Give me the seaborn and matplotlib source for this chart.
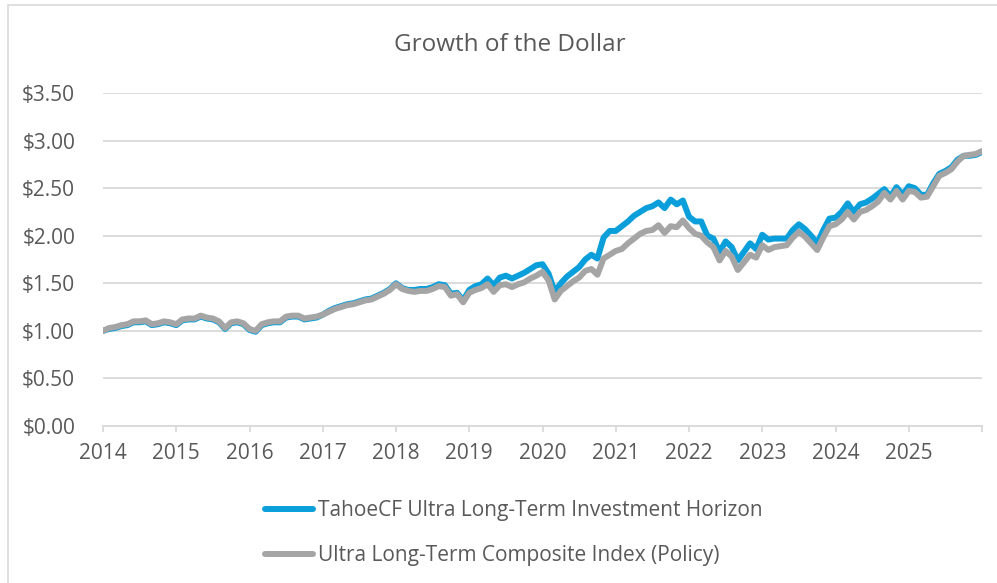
import numpy as np
import pandas as pd
import matplotlib
matplotlib.use("Agg")
import matplotlib.pyplot as plt
import seaborn as sns
from matplotlib.patches import Rectangle

title = "Growth of the Dollar"
series_names = ["TahoeCF Ultra Long-Term Investment Horizon",
                "Ultra Long-Term Composite Index (Policy)"]
year_ticks = list(range(2014, 2027))
year_labels = [str(y) for y in range(2014, 2026)] + [""]
y_ticks = [0.0, 0.5, 1.0, 1.5, 2.0, 2.5, 3.0, 3.5]

# Month-end values, starting Jan 2014 = $1.00 through end of 2025
policy = [
    1.00, 1.03, 1.04, 1.06, 1.07, 1.10, 1.10, 1.11, 1.07, 1.08, 1.10, 1.09,
    1.07, 1.12, 1.13, 1.13, 1.16, 1.14, 1.13, 1.10, 1.03, 1.09, 1.10, 1.08,
    1.02, 1.00, 1.07, 1.09, 1.10, 1.10, 1.15, 1.16, 1.16, 1.13, 1.14, 1.15,
    1.17, 1.20, 1.23, 1.25, 1.27, 1.28, 1.30, 1.32, 1.33, 1.36, 1.39, 1.43,
    1.49, 1.44, 1.42, 1.41, 1.42, 1.42, 1.44, 1.47, 1.46, 1.37, 1.385, 1.30,
    1.40, 1.43, 1.45, 1.49, 1.41, 1.48, 1.49, 1.46, 1.49, 1.51, 1.55, 1.58,
    1.62, 1.53, 1.33, 1.42, 1.47, 1.52, 1.56, 1.63, 1.65, 1.59, 1.76, 1.80,
    1.84, 1.86, 1.92, 1.97, 2.02, 2.05, 2.06, 2.11, 2.03, 2.10, 2.09, 2.16,
    2.08, 2.02, 2.00, 1.93, 1.88, 1.74, 1.84, 1.78, 1.64, 1.72, 1.80, 1.77,
    1.90, 1.85, 1.88, 1.89, 1.90, 1.98, 2.04, 1.99, 1.92, 1.85, 1.98, 2.10,
    2.12, 2.17, 2.25, 2.17, 2.25, 2.27, 2.31, 2.36, 2.45, 2.38, 2.47, 2.38,
    2.47, 2.46, 2.40, 2.41, 2.52, 2.63, 2.66, 2.70, 2.78, 2.84, 2.85, 2.86,
    2.89,
]
tahoe = [
    1.00, 1.02, 1.03, 1.05, 1.06, 1.09, 1.09, 1.10, 1.06, 1.07, 1.09, 1.08,
    1.06, 1.11, 1.12, 1.12, 1.15, 1.13, 1.12, 1.09, 1.02, 1.08, 1.09, 1.07,
    1.01, 0.99, 1.06, 1.08, 1.09, 1.09, 1.14, 1.15, 1.15, 1.12, 1.13, 1.14,
    1.17, 1.21, 1.24, 1.26, 1.28, 1.29, 1.31, 1.33, 1.34, 1.37, 1.40, 1.44,
    1.50, 1.45, 1.43, 1.43, 1.44, 1.44, 1.46, 1.49, 1.48, 1.39, 1.40, 1.32,
    1.43, 1.47, 1.49, 1.55, 1.48, 1.56, 1.58, 1.55, 1.58, 1.61, 1.65, 1.69,
    1.70, 1.60, 1.41, 1.50, 1.57, 1.62, 1.67, 1.75, 1.80, 1.76, 1.98, 2.05,
    2.05, 2.10, 2.15, 2.21, 2.25, 2.29, 2.31, 2.35, 2.29, 2.38, 2.33, 2.37,
    2.20, 2.15, 2.15, 2.00, 1.97, 1.83, 1.94, 1.88, 1.74, 1.83, 1.92, 1.86,
    2.01, 1.96, 1.97, 1.97, 1.97, 2.06, 2.12, 2.07, 2.00, 1.92, 2.06, 2.18,
    2.19, 2.25, 2.34, 2.25, 2.33, 2.35, 2.39, 2.44, 2.49, 2.41, 2.51, 2.43,
    2.52, 2.50, 2.43, 2.43, 2.55, 2.65, 2.68, 2.72, 2.80, 2.84, 2.84, 2.85,
    2.88,
]

n = len(policy)
dates = [2014 + i / 12 for i in range(n)]

df = pd.DataFrame({
    "date": dates * 2,
    "value": tahoe + policy,
    "series": [series_names[0]] * n + [series_names[1]] * n,
})

sns.set_theme(style="white")
plt.rcParams["font.family"] = ["Open Sans", "DejaVu Sans"]

text_color = "#595959"
grid_color = "#D9D9D9"
colors = {series_names[0]: "#0A9FDB", series_names[1]: "#A5A5A5"}

fig = plt.figure(figsize=(9.97, 5.83), dpi=100)
ax = fig.add_axes([103 / 997, 1 - 426 / 583, (982 - 103) / 997, (426 - 93) / 583])

sns.lineplot(data=df, x="date", y="value", hue="series", hue_order=series_names,
             palette=colors, linewidth=4.3, ax=ax, legend=True)

ax.set_xlim(2014, 2026)
ax.set_ylim(0, 3.5)
ax.set_yticks(y_ticks)
ax.set_yticklabels([f"${v:.2f}" for v in y_ticks])
ax.set_xticks(year_ticks)
ax.set_xticklabels(year_labels)
ax.set_xlabel("")
ax.set_ylabel("")
ax.grid(axis="y", color=grid_color, linewidth=1.3)
ax.set_axisbelow(True)
for s in ["top", "right", "left"]:
    ax.spines[s].set_visible(False)
ax.spines["bottom"].set_color(grid_color)
ax.spines["bottom"].set_linewidth(1.3)
ax.tick_params(axis="x", which="both", bottom=True, length=4.5, width=1.3,
               color=grid_color, labelsize=15, labelcolor=text_color, pad=8)
ax.tick_params(axis="y", left=False, labelsize=15, labelcolor=text_color, pad=14)

handles, labels = ax.get_legend_handles_labels()
ax.get_legend().remove()
fig.legend(handles, labels, loc="center left", bbox_to_anchor=(246 / 997, 1 - 533 / 583),
           ncol=1, frameon=False, fontsize=15, labelcolor=text_color,
           handlelength=2.3, handletextpad=0.25, labelspacing=1.15)

fig.text(510 / 997, 1 - 45 / 583, title, ha="center", va="center",
         fontsize=17.5, color=text_color)

fig.patches.append(Rectangle((8 / 997, -0.01), 1.1, 1 - 5 / 583 + 0.01,
                             transform=fig.transFigure, fill=False,
                             edgecolor="#D9D9D9", linewidth=1.2))

fig.savefig("out.png", dpi=100)
